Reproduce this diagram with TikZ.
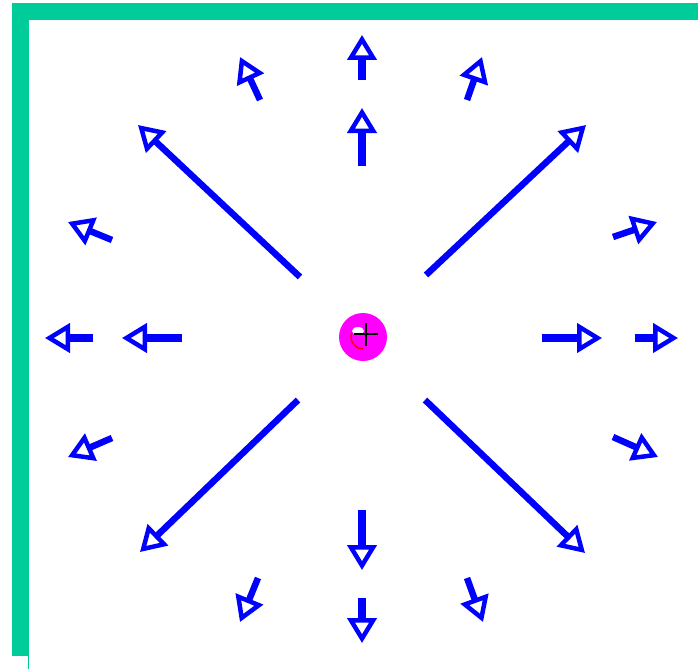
\documentclass[tikz,border=0pt]{standalone}
\usetikzlibrary{arrows.meta}
\definecolor{framegreen}{RGB}{0,204,153}
\definecolor{fieldblue}{RGB}{0,0,255}
\definecolor{pinkdot}{RGB}{255,0,255}
\tikzset{
  vec/.style={draw=fieldblue, line width=#1,
    -{Triangle[fill=white, line width=4.5pt, length=25pt, width=29pt]}},
}
\begin{document}
\begin{tikzpicture}[x=1pt,y=-1pt]
                \useasboundingbox (0,0) rectangle (698,669);
                \fill[framegreen] (12,3) rectangle (698,20);
                \fill[framegreen] (12,3) rectangle (29,656);
                \draw[framegreen, line width=1pt] (28.5,656) -- (28.5,669);
                % long diagonals
                \foreach \xa/\ya/\xb/\yb in {300/277/138/125, 426/275/586/125, 298/400/140/552, 425/400/585/553}
                \draw[vec=6.5pt] (\xa,\ya) -- (\xb,\yb);
                % on the axes
                \foreach \xa/\ya/\xb/\yb in {362/166/362/108, 362/80/362/35, 362/510/362/570, 362/598/362/643,
                                         182/338/122/338, 93/338/45/338, 542/338/602/338, 635/338/678/338}
                \draw[vec=8pt] (\xa,\ya) -- (\xb,\yb);
                % small ones in between
                \foreach \xa/\ya/\xb/\yb in {260/100/240/57, 467/100/482/57, 112/240/68/222, 112/438/68/457,
                                         613/237/657/222, 613/437/658/457, 258/578/240/622, 467/578/483/622}
                \draw[vec=6.5pt] (\xa,\ya) -- (\xb,\yb);
                % the charge
                \coordinate (centre) at (363,337);
                \fill[pinkdot] (centre) circle (24pt);
                \fill[white] (358,331) ellipse (6pt and 4pt);
                \draw[red, line width=1.5pt] (centre) ++(160:12pt) arc (160:270:12pt);
                \draw[black, line width=1.5pt] (354,334) -- (378,334) (366,323) -- (366,346);
            \end{tikzpicture}
\end{document}
